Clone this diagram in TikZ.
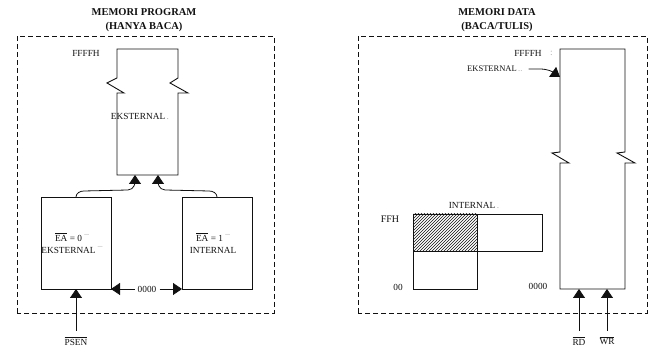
\documentclass[tikz,border=0pt]{standalone}
\usepackage{fontspec}
\setmainfont{Liberation Serif}
\usetikzlibrary{arrows.meta,patterns,positioning}
\definecolor{ink}{HTML}{111111}
\definecolor{muted}{HTML}{A8A8A8}
\newcommand{\lbl}{\fontsize{9.3}{11}\selectfont}
\newcommand{\ttl}{\fontsize{10.5}{13.5}\selectfont\bfseries}
\newcommand{\ovl}[1]{$\overline{\mbox{#1}}$}
\begin{document}
\begin{tikzpicture}[x=1pt,y=1pt,
  frame/.style={ink,line width=0.9pt,dash pattern=on 5pt off 3pt},
  memline/.style={ink,line width=0.9pt},
  membox/.style={draw=ink,line width=0.9pt,inner sep=0,outer sep=0},
  link/.style={ink,line width=0.8pt,-{Triangle[length=9pt,width=12pt]}},
  txt/.style={inner sep=0,text=ink,font=\lbl}]
\useasboundingbox (0,0) rectangle (651,347);
% memori program
\node[inner sep=0,text=ink,font=\ttl,align=center] (ptitle) at (144,327) {MEMORI PROGRAM\\(HANYA BACA)};
\draw[frame] (17,34) rectangle (274,311);
\node[inner sep=0,outer sep=0,minimum width=61,minimum height=126] (pext) at (147.5,235) {};
\draw[memline] (pext.north west) -- ++(0,-29) -- ++(-10,-5) -- ++(17,-10) -- ++(-7,0)
  -- (pext.south west) -- (pext.south east) -- ++(0,82) -- ++(10,0) -- ++(-18,10) -- ++(8,5)
  -- (pext.north east) -- cycle;
\node[txt] (pffff) at (86,294) {FFFFH};
\node[txt] (pextlbl) at (140,231) {EKSTERNAL\,{\color{muted}.}};
\node[membox,minimum width=70,minimum height=92] (eazero) at (76,104) {};
\node[membox,minimum width=70,minimum height=92] (eaone) at (217,104) {};
\node[txt] (eazerotop) at (72,110) {\ovl{EA} = 0 {\color{muted}¯}};
\node[txt] (eazerobot) at (72,97) {EKSTERNAL {\color{muted}¯}};
\node[txt] (eaonetop) at (213,110) {\ovl{EA} = 1 {\color{muted}¯}};
\node[txt] (eaonebot) at (213,97) {INTERNAL};
\draw[link] (eazero.north) to[out=90,in=180] ++(8,6) -- ++(44,1) to[out=0,in=-90] ([xshift=-12.5pt]pext.south);
\draw[link] (eaone.north) to[out=90,in=0] ++(-8,6) -- ++(-44,1) to[out=180,in=-90] ([xshift=10.5pt]pext.south);
\node[txt,inner sep=3pt] (porigin) at (147,58) {0000};
\draw[link] (porigin.west) -- (eazero.south east);
\draw[link] (porigin.east) -- (eaone.south west);
\node[txt] (psen) at (76,6) {\ovl{PSEN}};
\draw[link] ([yshift=6pt]psen.north) -- (eazero.south);
% memori data
\node[inner sep=0,text=ink,font=\ttl,align=center] (dtitle) at (497,327) {MEMORI DATA\\(BACA/TULIS)};
\draw[frame] (358,34) rectangle (647,311);
\node[inner sep=0,outer sep=0,minimum width=65,minimum height=240] (dext) at (592.5,178) {};
\draw[memline] (dext.north west) -- ++(0,-103) -- ++(-8,-1) -- ++(17,-10) -- ++(-9,0)
  -- (dext.south west) -- (dext.south east) -- ++(0,126) -- ++(10,0) -- ++(-18,10) -- ++(8,1)
  -- (dext.north east) -- cycle;
\node[txt] (dffff) at (528,294) {FFFFH};
\node[txt,text=muted,right=8pt of dffff] (dcolon) {:};
\node[txt,anchor=west,font=\fontsize{8.5}{10}\selectfont] (dextlbl) at (467,278) {EKSTERNAL\,{\color{muted}..}};
\draw[link] ([xshift=6pt]dextlbl.east) -- ++(11,0) to[out=0,in=145] ([yshift=-28pt]dext.north west);
\node[membox,pattern=north east lines,pattern color=ink,minimum width=64,minimum height=37] (ihatch) at (445,114.5) {};
\node[membox,minimum width=65,minimum height=37,right=0pt of ihatch] (iside) {};
\node[membox,minimum width=64,minimum height=38,below=0pt of ihatch] (ilow) {};
\node[txt] (intlbl) at (474,141) {INTERNAL\,{\color{muted}.}};
\node[txt,font=\fontsize{10}{11}\selectfont] (dffh) at (390,128) {FFH};
\node[txt] (dzero) at (398,60) {00};
\node[txt] (dorigin) at (538,61) {0000};
\node[txt] (rd) at (579,6) {\ovl{RD}};
\node[txt] (wr) at (607,6) {\ovl{WR}};
\draw[link] ([yshift=6pt]rd.north) -- (rd |- dext.south);
\draw[link] ([yshift=6pt]wr.north) -- (wr |- dext.south);
\end{tikzpicture}
\end{document}
